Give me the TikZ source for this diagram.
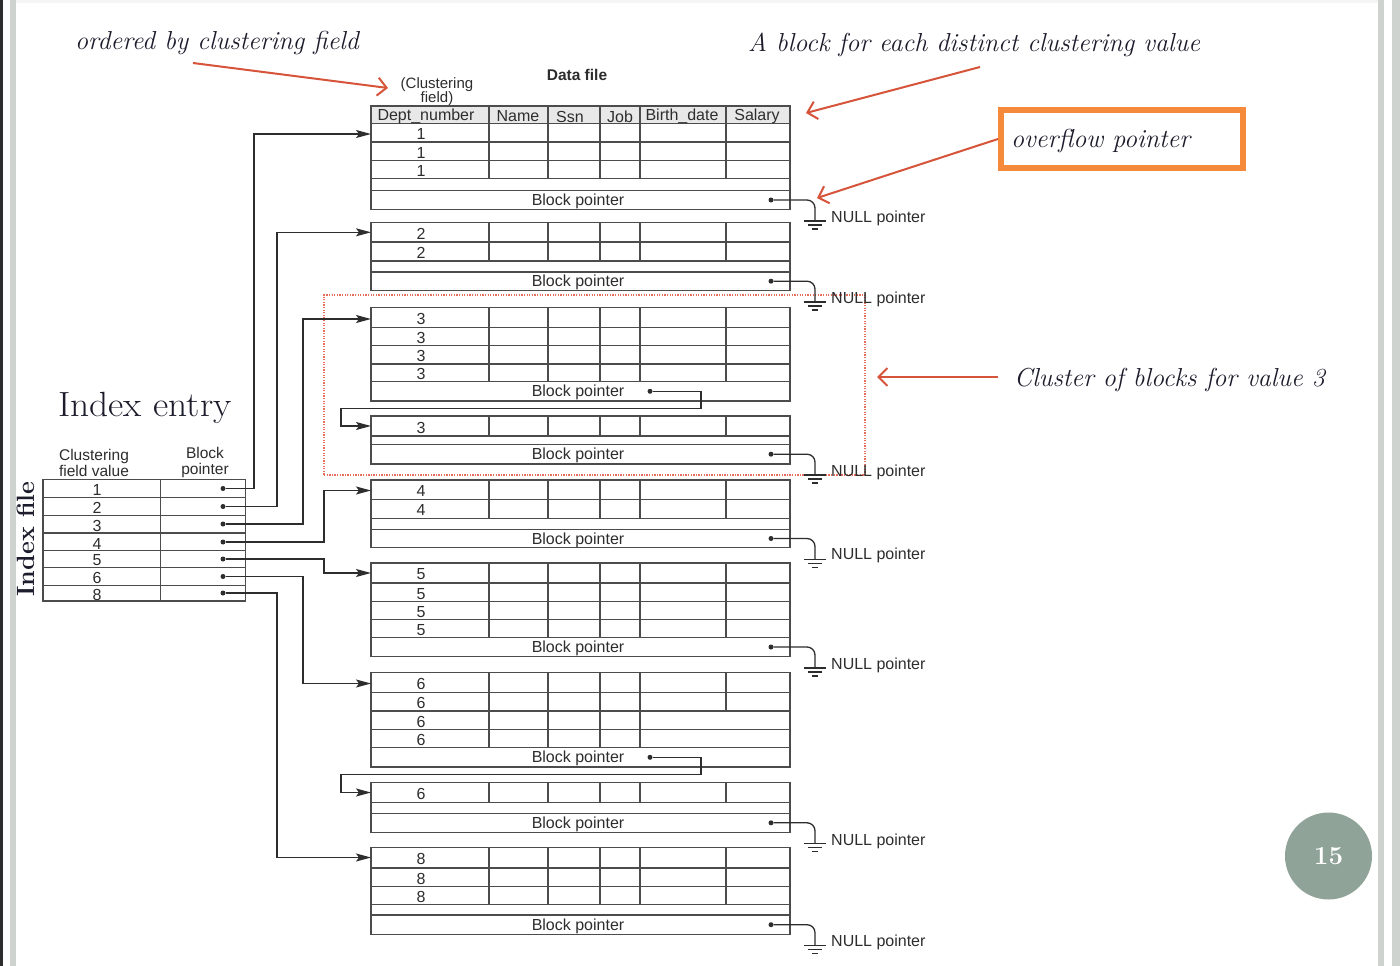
\documentclass[tikz,border=0pt]{standalone}
\usepackage{fontspec}
\newfontfamily\helv{Liberation Sans}
\usepackage{xcolor}
\usepackage{tikz}
\usetikzlibrary{arrows.meta}
\usetikzlibrary{positioning}

\definecolor{ink}{RGB}{45,45,45}
\definecolor{annot}{RGB}{28,28,44}
\definecolor{redline}{RGB}{214,84,58}
\definecolor{dotred}{RGB}{232,110,92}
\definecolor{boxorange}{RGB}{245,138,58}
\definecolor{bargray}{RGB}{206,211,208}
\definecolor{numgray}{RGB}{143,163,152}
\definecolor{hdrgray}{RGB}{232,232,232}

\begin{document}
\begin{tikzpicture}[x=1pt,y=-1pt,
	tbl/.style={line width=1.3pt,draw=ink!85},
	lnk/.style={line width=1.3pt,draw=ink},
	ptr/.style={line width=1.3pt,draw=ink,-{Stealth[length=15pt,width=8pt,inset=3pt]}},
	ptrdot/.style={circle,fill=ink,inner sep=0pt,minimum size=5pt},
	txt/.style={font=\helv\fontsize{16}{16}\selectfont,text=ink,inner sep=0pt,yshift=-1.5pt},
	remark/.style={font=\itshape\fontsize{26}{30}\selectfont,text=annot,inner sep=0pt},
	redarrow/.style={line width=2pt,draw=redline,-{Straight Barb[length=9pt,width=18pt]}}]
	
	% page and slide frame
	\useasboundingbox (0,0) rectangle (1400,966);
	\fill[white] (0,0) rectangle (1400,966);
	\fill[black!4] (16,0) rectangle (1378,3);
	\fill[ink] (0,0) rectangle (2.5,966);
	\fill[bargray] (9.5,0) rectangle (15.5,966);
	\fill[bargray] (1378,0) rectangle (1384,966);
	\fill[bargray] (1392,0) rectangle (1400,966);
	\node[circle,fill=numgray,minimum size=87pt,inner sep=0pt,text=white,font=\bfseries\fontsize{26}{28}\selectfont] (pg) at (1328.5,856) {15};
	
	% remarks
	\node[remark,anchor=base west] (ord) at (75,50) {ordered by clustering field};
	\node[remark,anchor=base west] (each) at (748,52) {A block for each distinct clustering value};
	\node[draw=boxorange,line width=6pt,minimum width=242pt,minimum height=58pt,inner sep=0pt] (ovf) at (1122,139) {};
	\node[remark,anchor=base west] (ovft) at (1011,147) {overflow pointer};
	\node[remark,anchor=base west] (clu) at (1014,386) {Cluster of blocks for value 3};
	\node[draw=dotred,line width=1.4pt,dash pattern=on 1.3pt off 1.3pt,minimum width=541pt,minimum height=180pt,inner sep=0pt] (cl3) at (594.5,385) {};
	
	% data file titles
	\node[txt,font=\helv\bfseries\fontsize{15.5}{15.5}\selectfont] (dfile) at (577,73) {Data file};
	\node[txt,align=center,font=\helv\fontsize{15}{14.5}\selectfont] (cfld) at (437,90) {(Clustering\\field)};
	
	% block of value 1
	\fill[hdrgray] (371,106) rectangle (790,123.5);
	\draw[tbl] (371,106) rectangle (790,209.7);
	\foreach \y in {123.5,142,160.3,178.7,190.3} \draw[tbl] (371,\y) -- (790,\y);
	\foreach \x in {489,548,600,640,726} \draw[tbl] (\x,106) -- (\x,178.7);
	\node[txt] (hdept) at (426,115) {Dept\_number};
	\node[txt] (hname) at (518,115) {Name};
	\node[txt] (hssn) at (570,115) {Ssn};
	\node[txt] (hjob) at (620,115) {Job};
	\node[txt] (hbirth) at (682,115) {Birth\_date};
	\node[txt] (hsal) at (757,115) {Salary};
	\node[txt] (v1a) at (421,132.7) {1};
	\node[txt] (v1b) at (421,151.2) {1};
	\node[txt] (v1c) at (421,169.5) {1};
	\node[txt] (bp1) at (578,200) {Block pointer};
	\node[ptrdot] (d1) at (771,200) {};
	\coordinate (in1) at (371,134);
	\coordinate (e1) at (815,221);
	\node[txt,anchor=west] (n1) at (831,217) {NULL pointer};
	
	% block of value 2
	\draw[tbl] (371,222.7) rectangle (790,290.3);
	\foreach \y in {242,261,272} \draw[tbl] (371,\y) -- (790,\y);
	\foreach \x in {489,548,600,640,726} \draw[tbl] (\x,222.7) -- (\x,261);
	\node[txt] (v2a) at (421,232.3) {2};
	\node[txt] (v2b) at (421,251.5) {2};
	\node[txt] (bp2) at (578,281.2) {Block pointer};
	\node[ptrdot] (d2) at (771,281.2) {};
	\coordinate (in2) at (371,232.3);
	\coordinate (e2) at (815,302);
	\node[txt,anchor=west] (n2) at (831,297.5) {NULL pointer};
	
	% first block of value 3
	\draw[tbl] (371,307.3) rectangle (790,401);
	\foreach \y in {327.3,345.7,364,381.7} \draw[tbl] (371,\y) -- (790,\y);
	\foreach \x in {489,548,600,640,726} \draw[tbl] (\x,307.3) -- (\x,381.7);
	\node[txt] (v3a) at (421,317.3) {3};
	\node[txt] (v3b) at (421,336.5) {3};
	\node[txt] (v3c) at (421,354.8) {3};
	\node[txt] (v3d) at (421,372.8) {3};
	\node[txt] (bp3) at (578,391.3) {Block pointer};
	\node[ptrdot] (d3) at (650,391.3) {};
	\coordinate (in3) at (371,319);
	\coordinate (g3) at (701,408.5);
	
	% overflow block of value 3
	\draw[tbl] (371,416) rectangle (790,464);
	\foreach \y in {436,444.3} \draw[tbl] (371,\y) -- (790,\y);
	\foreach \x in {489,548,600,640,726} \draw[tbl] (\x,416) -- (\x,436);
	\node[txt] (v3e) at (421,426) {3};
	\node[txt] (bp3b) at (578,454.2) {Block pointer};
	\node[ptrdot] (d3b) at (771,454.2) {};
	\coordinate (in3b) at (371,426);
	\coordinate (e3b) at (815,475);
	\node[txt,anchor=west] (n3b) at (831,471) {NULL pointer};
	
	% block of value 4
	\draw[tbl] (371,480) rectangle (790,547.6);
	\foreach \y in {499.3,518.3,529.3} \draw[tbl] (371,\y) -- (790,\y);
	\foreach \x in {489,548,600,640,726} \draw[tbl] (\x,480) -- (\x,518.3);
	\node[txt] (v4a) at (421,489.7) {4};
	\node[txt] (v4b) at (421,508.8) {4};
	\node[txt] (bp4) at (578,538.5) {Block pointer};
	\node[ptrdot] (d4) at (771,538.5) {};
	\coordinate (in4) at (371,490.5);
	\coordinate (e4) at (815,559.5);
	\node[txt,anchor=west] (n4) at (831,554) {NULL pointer};
	
	% block of value 5
	\draw[tbl] (371,563) rectangle (790,656.7);
	\foreach \y in {583,601.4,619.7,637.4} \draw[tbl] (371,\y) -- (790,\y);
	\foreach \x in {489,548,600,640,726} \draw[tbl] (\x,563) -- (\x,637.4);
	\node[txt] (v5a) at (421,573) {5};
	\node[txt] (v5b) at (421,592.2) {5};
	\node[txt] (v5c) at (421,610.5) {5};
	\node[txt] (v5d) at (421,628.5) {5};
	\node[txt] (bp5) at (578,647) {Block pointer};
	\node[ptrdot] (d5) at (771,647) {};
	\coordinate (in5) at (371,573);
	\coordinate (e5) at (815,668);
	\node[txt,anchor=west] (n5) at (831,663.5) {NULL pointer};
	
	% first block of value 6
	\draw[tbl] (371,672.7) rectangle (790,767);
	\foreach \y in {692.7,711,729.3,747.7} \draw[tbl] (371,\y) -- (790,\y);
	\foreach \x in {489,548,600,640} \draw[tbl] (\x,672.7) -- (\x,747.7);
	\draw[tbl] (726,672.7) -- (726,711);
	\node[txt] (v6a) at (421,682.7) {6};
	\node[txt] (v6b) at (421,701.8) {6};
	\node[txt] (v6c) at (421,720.1) {6};
	\node[txt] (v6d) at (421,738.5) {6};
	\node[txt] (bp6) at (578,757.3) {Block pointer};
	\node[ptrdot] (d6) at (650,757.3) {};
	\coordinate (in6) at (371,683.5);
	\coordinate (g6) at (701,774.6);
	
	% overflow block of value 6
	\draw[tbl] (371,782.3) rectangle (790,832.3);
	\foreach \y in {802.7,813.3} \draw[tbl] (371,\y) -- (790,\y);
	\foreach \x in {489,548,600,640,726} \draw[tbl] (\x,782.3) -- (\x,802.7);
	\node[txt] (v6e) at (421,792.5) {6};
	\node[txt] (bp6b) at (578,822.8) {Block pointer};
	\node[ptrdot] (d6b) at (771,822.8) {};
	\coordinate (in6b) at (371,792.5);
	\coordinate (e6b) at (815,843.8);
	\node[txt,anchor=west] (n6b) at (831,840) {NULL pointer};
	
	% block of value 8
	\draw[tbl] (371,847.7) rectangle (790,934.3);
	\foreach \y in {868,886.3,904.7,915} \draw[tbl] (371,\y) -- (790,\y);
	\foreach \x in {489,548,600,640,726} \draw[tbl] (\x,847.7) -- (\x,904.7);
	\node[txt] (v8a) at (421,857.8) {8};
	\node[txt] (v8b) at (421,877.1) {8};
	\node[txt] (v8c) at (421,895.5) {8};
	\node[txt] (bp8) at (578,924.7) {Block pointer};
	\node[ptrdot] (d8) at (771,924.7) {};
	\coordinate (in8) at (371,857.5);
	\coordinate (e8) at (815,945.7);
	\node[txt,anchor=west] (n8) at (831,941) {NULL pointer};
	
	% index file
	\node[font=\fontsize{35}{36}\selectfont,xscale=1.07,text=annot,inner sep=0pt,anchor=base west] (ientry) at (58,416) {Index entry};
	\node[rotate=90,font=\bfseries\fontsize{25}{28}\selectfont,text=annot,inner sep=0pt] (ifile) at (26,539) {Index file};
	\node[txt,align=center,font=\helv\fontsize{15.5}{16}\selectfont] (hcfv) at (94,461) {Clustering\\field value};
	\node[txt,align=center,font=\helv\fontsize{15.5}{16}\selectfont] (hbp) at (205,461) {Block\\pointer};
	\draw[tbl] (43,479.3) rectangle (245.7,601);
	\draw[tbl] (160.3,479.3) -- (160.3,601);
	\foreach \y in {497.7,515.3,533,550.7,567.7,585.3} \draw[tbl] (43,\y) -- (245.7,\y);
	\node[txt] (k1) at (97,488.5) {1};
	\node[txt] (k2) at (97,506.5) {2};
	\node[txt] (k3) at (97,524) {3};
	\node[txt] (k4) at (97,542) {4};
	\node[txt] (k5) at (97,559) {5};
	\node[txt] (k6) at (97,576.5) {6};
	\node[txt] (k8) at (97,593) {8};
	\node[ptrdot] (i1) at (223,488.5) {};
	\node[ptrdot] (i2) at (223,506.5) {};
	\node[ptrdot] (i3) at (223,524) {};
	\node[ptrdot] (i4) at (223,542) {};
	\node[ptrdot] (i5) at (223,559) {};
	\node[ptrdot] (i6) at (223,576.5) {};
	\node[ptrdot] (i8) at (223,593) {};
	
	% index pointers
	\draw[ptr] (i1) -- ++(31,0) |- (in1);
	\draw[ptr] (i2) -- ++(54,0) |- (in2);
	\draw[ptr] (i3) -- ++(80,0) |- (in3);
	\draw[ptr] (i4) -- ++(101,0) |- (in4);
	\draw[ptr] (i5) -- ++(101,0) |- (in5);
	\draw[ptr] (i6) -- ++(80,0) |- (in6);
	\draw[ptr] (i8) -- ++(54,0) |- (in8);
	
	% overflow chains
	\draw[ptr] (d3) -| (g3) -| ([xshift=-30pt]in3b) -- (in3b);
	\draw[ptr] (d6) -| (g6) -| ([xshift=-30pt]in6b) -- (in6b);
	
	% null pointers
	\draw[lnk,rounded corners=8pt] (d1) -| (e1);
	\draw[lnk,rounded corners=8pt] (d2) -| (e2);
	\draw[lnk,rounded corners=8pt] (d3b) -| (e3b);
	\draw[lnk,rounded corners=8pt] (d4) -| (e4);
	\draw[lnk,rounded corners=8pt] (d5) -| (e5);
	\draw[lnk,rounded corners=8pt] (d6b) -| (e6b);
	\draw[lnk,rounded corners=8pt] (d8) -| (e8);
	\foreach \e in {e1,e2,e3b,e4,e5,e6b,e8} {
		\draw[lnk,line width=1.1pt] ([xshift=-11pt]\e) -- ([xshift=11pt]\e);
		\draw[lnk,line width=1.1pt] ([xshift=-7pt,yshift=-4pt]\e) -- ([xshift=7pt,yshift=-4pt]\e);
		\draw[lnk,line width=1.1pt] ([xshift=-3pt,yshift=-8pt]\e) -- ([xshift=3pt,yshift=-8pt]\e);
	}
	
	% red arrows of the remarks
	\coordinate (ordtail) at (193,63);
	\coordinate (ordtip) at (388,88);
	\coordinate (eachtail) at (980,67);
	\coordinate (eachtip) at (806,113);
	\coordinate (ovftip) at (817,198);
	\coordinate (clutail) at (998,377);
	\coordinate (clutip) at (877,377);
	\draw[redarrow] (ordtail) -- (ordtip);
	\draw[redarrow] (eachtail) -- (eachtip);
	\draw[redarrow] (ovf.west) -- (ovftip);
	\draw[redarrow] (clutail) -- (clutip);
	
\end{tikzpicture}
\end{document}
